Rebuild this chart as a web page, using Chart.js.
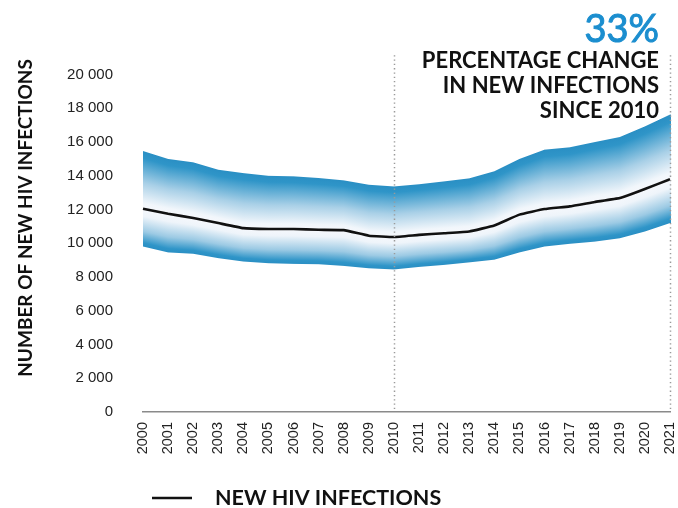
<!DOCTYPE html>
<html><head><meta charset="utf-8">
<script src="https://cdn.jsdelivr.net/npm/chart.js@4.4.1/dist/chart.umd.min.js"></script>
<style>html,body{margin:0;padding:0;background:#fff}#wrap{width:678px;height:508px;position:relative}</style>
</head><body><div id="wrap"><canvas id="c" width="678" height="508"></canvas></div>
<script>
// ---- DATA ----
const years = ['2000','2001','2002','2003','2004','2005','2006','2007','2008','2009','2010','2011','2012','2013','2014','2015','2016','2017','2018','2019','2020','2021'];
const newInfections = [12050,11750,11500,11200,10900,10850,10850,10800,10780,10450,10370,10500,10600,10700,11060,11700,12030,12190,12450,12680,13220,13800];
const upperBound = [15470,15000,14800,14360,14160,14000,13970,13870,13730,13470,13370,13500,13670,13850,14270,15000,15550,15690,16000,16300,16930,17630];
const lowerBound = [9810,9460,9380,9120,8920,8820,8780,8760,8660,8520,8450,8600,8720,8870,9030,9460,9810,9970,10100,10300,10700,11200];
const yTicks = [0,2000,4000,6000,8000,10000,12000,14000,16000,18000,20000];
const markerYears = ['2010','2021'];
const headline = '33%';
const headlineLines = ['PERCENTAGE CHANGE','IN NEW INFECTIONS','SINCE 2010'];
const legendLabel = 'NEW HIV INFECTIONS';
const yTitle = 'NUMBER OF NEW HIV INFECTIONS';

// ---- STYLE ----
const markerTopValue = 21150;

const fmt = v => String(v).replace(/\B(?=(\d{3})+(?!\d))/g, ' ');

const bandPlugin = {
  id: 'band',
  beforeDatasetsDraw(chart) {
    const mid = chart.getDatasetMeta(0).data;
    const up = chart.getDatasetMeta(1).data;
    const lo = chart.getDatasetMeta(2).data;
    const ctx = chart.ctx;
    ctx.save();
    for (let i = 0; i < up.length - 1; i++) {
      const x0 = up[i].x, x1 = up[i + 1].x;
      const start = Math.round(x0), end = (i === up.length - 2) ? Math.round(x1) + 1 : Math.round(x1);
      for (let px = start; px < end; px++) {
        let t = (px + 0.5 - x0) / (x1 - x0);
        t = Math.max(0, Math.min(1, t));
        const uy = up[i].y + (up[i + 1].y - up[i].y) * t;
        const ly = lo[i].y + (lo[i + 1].y - lo[i].y) * t;
        const my = mid[i].y + (mid[i + 1].y - mid[i].y) * t;
        const c = (my - uy) / (ly - uy);
        const g = ctx.createLinearGradient(0, uy, 0, ly);
        g.addColorStop(0, '#2a8fc4');
        g.addColorStop(c * 0.12, '#2f95c8');
        g.addColorStop(c * 0.55, '#a9d0e7');
        g.addColorStop(c * 0.9, '#f1f6fb');
        g.addColorStop(c, '#f6f8fc');
        g.addColorStop(c + (1 - c) * 0.2, '#eef4fa');
        g.addColorStop(c + (1 - c) * 0.6, '#9ccae4');
        g.addColorStop(c + (1 - c) * 0.9, '#2f95c8');
        g.addColorStop(1, '#2a8fc4');
        ctx.fillStyle = g;
        ctx.fillRect(px, uy, 1, ly - uy);
      }
    }
    ctx.restore();
  }
};

const overlayPlugin = {
  id: 'overlay',
  afterDatasetsDraw(chart) {
    const ctx = chart.ctx, xs = chart.scales.x, ys = chart.scales.y;
    ctx.save();
    ctx.strokeStyle = '#9a9a9a';
    ctx.lineWidth = 1.5;
    ctx.setLineDash([1.3, 3]);
    markerYears.forEach(yr => {
      const x = Math.round(xs.getPixelForValue(years.indexOf(yr))) + 0.5;
      ctx.beginPath();
      ctx.moveTo(x, ys.getPixelForValue(markerTopValue));
      ctx.lineTo(x, ys.getPixelForValue(0));
      ctx.stroke();
    });
    ctx.restore();
  },
  afterDraw(chart) {
    const ctx = chart.ctx, area = chart.chartArea;
    ctx.save();
    const rx = area.right - 11;
    ctx.textAlign = 'right';
    ctx.textBaseline = 'alphabetic';
    ctx.fillStyle = '#1b8ecf';
    ctx.strokeStyle = '#1b8ecf';
    ctx.lineWidth = 1;
    ctx.font = '38px Lato';
    ctx.fillText(headline, rx, 42);
    ctx.strokeText(headline, rx, 42);
    ctx.fillStyle = '#111';
    ctx.font = 'bold 22px Lato';
    headlineLines.forEach((t, i) => ctx.fillText(t, rx, 68 + i * 25));
    // legend
    const lx = area.left + 9;
    ctx.strokeStyle = '#111';
    ctx.lineWidth = 2.5;
    ctx.beginPath();
    ctx.moveTo(lx, 498);
    ctx.lineTo(lx + 40, 498);
    ctx.stroke();
    ctx.textAlign = 'left';
    ctx.textBaseline = 'middle';
    ctx.font = 'bold 21.5px Lato';
    ctx.fillText(legendLabel, lx + 63, 498);
    ctx.restore();
  }
};

new Chart(document.getElementById('c'), {
  type: 'line',
  data: {
    labels: years,
    datasets: [
      { label: legendLabel, data: newInfections, borderColor: '#111', borderWidth: 2.6, pointRadius: 0, tension: 0.1, fill: false },
      { label: 'upper', data: upperBound, showLine: false, pointRadius: 0, borderWidth: 0 },
      { label: 'lower', data: lowerBound, showLine: false, pointRadius: 0, borderWidth: 0 }
    ]
  },
  options: {
    responsive: false,
    animation: false,
    devicePixelRatio: 1,
    layout: { padding: { left: 0, right: 8, top: 24, bottom: 40 } },
    plugins: { legend: { display: false }, tooltip: { enabled: false } },
    scales: {
      x: {
        type: 'category',
        offset: false,
        grid: { display: false, drawTicks: false },
        border: { display: true, color: '#8a8a8a', width: 1.5 },
        ticks: { minRotation: 90, maxRotation: 90, autoSkip: false, padding: 10, color: '#222', font: { family: 'Liberation Sans', size: 14.5 } },
        afterFit(s) { s.height = 56; s.paddingLeft = 0; s.paddingRight = 0; }
      },
      y: {
        min: 0, max: 23000,
        grid: { display: false, drawTicks: false },
        border: { display: false },
        afterBuildTicks(s) { s.ticks = yTicks.map(v => ({ value: v })); },
        ticks: { padding: 30, color: '#222', font: { family: 'Liberation Sans', size: 15 }, callback: v => fmt(v) },
        title: { display: true, text: yTitle, color: '#111', font: { family: 'Lato', weight: 'bold', size: 19 }, padding: { top: 14, bottom: 0 } },
        afterFit(s) { s.width = 143; s.paddingTop = 0; s.paddingBottom = 0; }
      }
    }
  },
  plugins: [bandPlugin, overlayPlugin]
});
</script></body></html>
